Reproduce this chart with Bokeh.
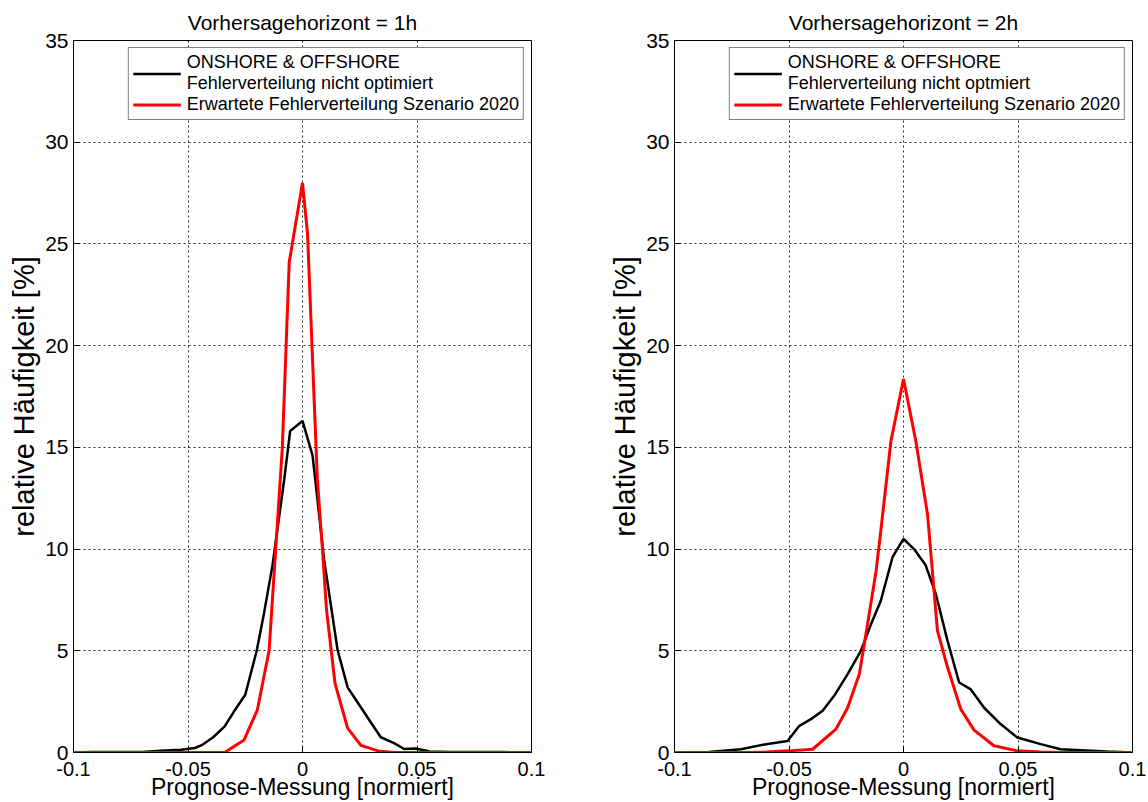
from bokeh.plotting import figure
from bokeh.layouts import row
from bokeh.models import Range1d, FixedTicker, NumeralTickFormatter, Legend, LegendItem
from bokeh.embed import file_html
from bokeh.resources import INLINE

# ---- data ----
titles = ["Vorhersagehorizont = 1h", "Vorhersagehorizont = 2h"]
label_black = ["ONSHORE & OFFSHORE\nFehlerverteilung nicht optimiert",
               "ONSHORE & OFFSHORE\nFehlerverteilung nicht optmiert"]
label_red = "Erwartete Fehlerverteilung Szenario 2020"
x_label = "Prognose-Messung [normiert]"
y_label = "relative Häufigkeit [%]"

x_ticks = [-0.1, -0.05, 0, 0.05, 0.1]
y_ticks = [0, 5, 10, 15, 20, 25, 30, 35]

# 1h horizon
x1_black = [-0.100, -0.092, -0.080, -0.070, -0.062, -0.053, -0.047, -0.044, -0.039, -0.034,
            -0.030, -0.025, -0.020, -0.0168, -0.0131, -0.008, -0.0054, 0.0, 0.0044, 0.0094,
            0.0153, 0.0197, 0.0262, 0.030, 0.0342, 0.040, 0.0444, 0.0495, 0.0555, 0.065,
            0.075, 0.087, 0.100]
y1_black = [0.0, 0.02, 0.02, 0.03, 0.08, 0.13, 0.22, 0.36, 0.75, 1.28,
            2.0, 2.84, 5.0, 6.85, 9.2, 13.4, 15.8, 16.3, 14.6, 9.5,
            5.05, 3.2, 2.1, 1.45, 0.75, 0.46, 0.17, 0.2, 0.05, 0.02,
            0.02, 0.02, 0.0]
x1_red = [-0.100, -0.034, -0.0255, -0.0197, -0.0146, -0.0117, -0.0088, -0.0058, 0.0,
          0.0022, 0.0051, 0.0065, 0.0087, 0.0105, 0.0142, 0.0197, 0.0255, 0.033, 0.040, 0.100]
y1_red = [0.0, 0.0, 0.62, 2.1, 5.0, 10.0, 15.0, 24.1, 28.0,
          25.5, 17.3, 13.4, 10.0, 7.0, 3.4, 1.2, 0.35, 0.08, 0.0, 0.0]

# 2h horizon
x2_black = [-0.100, -0.085, -0.071, -0.060, -0.055, -0.0506, -0.0455, -0.0404, -0.0353, -0.0302,
            -0.0244, -0.0186, -0.0142, -0.0099, -0.0048, 0.0, 0.0046, 0.0097, 0.0141, 0.0192,
            0.0243, 0.0294, 0.0352, 0.0424, 0.0497, 0.0599, 0.0686, 0.089, 0.100]
y2_black = [0.0, 0.03, 0.16, 0.41, 0.49, 0.57, 1.31, 1.64, 2.05, 2.8,
            3.85, 5.0, 6.3, 7.46, 9.6, 10.5, 10.0, 9.2, 7.8, 5.5,
            3.44, 3.1, 2.2, 1.4, 0.74, 0.41, 0.16, 0.05, 0.0]
x2_red = [-0.100, -0.070, -0.060, -0.050, -0.0397, -0.0295, -0.0244, -0.0193, -0.0157, -0.012,
          -0.0099, -0.0055, 0.0, 0.0054, 0.0105, 0.0148, 0.0192, 0.025, 0.0308, 0.0395,
          0.0497, 0.060, 0.070, 0.100]
y2_red = [0.0, 0.0, 0.02, 0.08, 0.16, 1.15, 2.2, 3.85, 6.3, 8.9,
          10.9, 15.3, 18.36, 15.3, 11.7, 6.0, 4.2, 2.13, 1.1, 0.33,
          0.08, 0.02, 0.0, 0.0]

FONT = "Liberation Sans"


def make_panel(title, xb, yb, xr, yr, lab_black, width, border_left, border_right):
    p = figure(width=width, height=802,
               x_range=Range1d(-0.1, 0.1), y_range=Range1d(0, 35),
               output_backend="svg", toolbar_location=None,
               min_border_left=border_left, min_border_right=border_right,
               min_border_top=40, min_border_bottom=50,
               background_fill_color="white", border_fill_color="white")
    p.title.text = title
    p.title.align = "center"
    p.title.text_font = FONT
    p.title.text_font_size = "21px"
    p.title.text_font_style = "normal"
    p.title.text_color = "black"
    p.title.standoff = 14

    p.outline_line_color = "black"
    p.outline_line_width = 1

    for ax in (p.xaxis[0], p.yaxis[0]):
        ax.major_tick_in = 6
        ax.major_tick_out = 0
        ax.minor_tick_line_color = None
        ax.axis_line_color = "black"
        ax.major_tick_line_color = "black"
        ax.major_label_text_font = FONT
        ax.major_label_text_color = "black"
        ax.axis_label_text_font = FONT
        ax.axis_label_text_font_style = "normal"
        ax.axis_label_text_color = "black"

    p.xaxis.ticker = FixedTicker(ticks=x_ticks)
    p.xaxis.formatter = NumeralTickFormatter(format="0.[00]")
    p.xaxis.major_label_text_font_size = "20px"
    p.xaxis.major_label_standoff = 9
    p.xaxis.axis_label = x_label
    p.xaxis.axis_label_text_font_size = "23px"
    p.xaxis.axis_label_standoff = -5

    p.yaxis.ticker = FixedTicker(ticks=y_ticks)
    p.yaxis.major_label_text_font_size = "21px"
    p.yaxis.major_label_standoff = 5
    p.yaxis.axis_label = y_label
    p.yaxis.axis_label_text_font_size = "29px"
    p.yaxis.axis_label_standoff = 2

    for g in (p.xgrid[0], p.ygrid[0]):
        g.grid_line_color = "black"
        g.grid_line_dash = "2 3"
        g.grid_line_width = 1
        g.grid_line_alpha = 0.85

    rb = p.line(xb, yb, line_color="black", line_width=2.5)
    rr = p.line(xr, yr, line_color="#ff0000", line_width=3)

    legend = Legend(items=[LegendItem(label=lab_black, renderers=[rb]),
                           LegendItem(label=label_red, renderers=[rr])],
                    location="top_right", margin=7, padding=4, spacing=0,
                    glyph_width=48, glyph_height=15, label_height=15, label_standoff=6,
                    label_text_font=FONT, label_text_font_size="18px",
                    label_text_line_height=0.88,
                    label_text_color="black",
                    border_line_color="black", border_line_width=1,
                    background_fill_color="white", background_fill_alpha=1.0)
    p.add_layout(legend)
    return p


p1 = make_panel(titles[0], x1_black, y1_black, x1_red, y1_red, label_black[0], 600, 73, 69)
p2 = make_panel(titles[1], x2_black, y2_black, x2_red, y2_red, label_black[1], 546, 74, 14)

layout = row(p1, p2)
open("out.html", "w").write(file_html(layout, INLINE))
